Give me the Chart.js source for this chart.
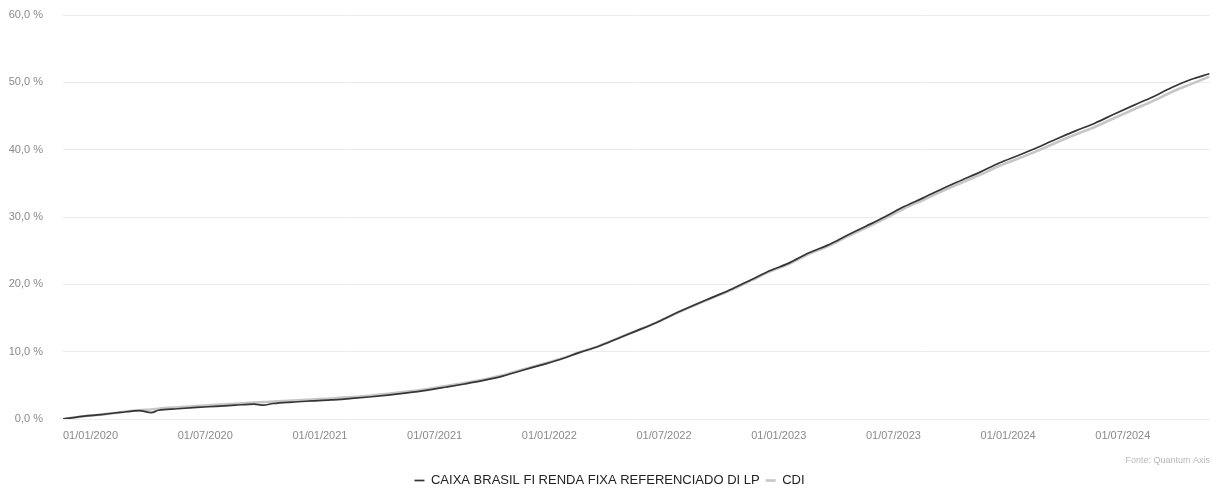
<!DOCTYPE html>
<html lang="pt-BR">
<head>
<meta charset="utf-8">
<title>CAIXA BRASIL FI RENDA FIXA REFERENCIADO DI LP x CDI</title>
<script src="https://cdn.jsdelivr.net/npm/chart.js@4/dist/chart.umd.min.js"></script>
<style>
  html, body { margin: 0; padding: 0; background: #ffffff; }
  #wrap { position: relative; width: 1223px; height: 488px; }
</style>
</head>
<body>
<div id="wrap"><canvas id="chart"></canvas></div>
<script>
// Observation dates (DD/MM/YYYY)
const dates = [
  "01/01/2020","01/02/2020","01/03/2020","01/04/2020","01/05/2020","20/05/2020","01/06/2020",
  "01/07/2020","01/08/2020","01/09/2020","01/10/2020","01/11/2020","15/11/2020","01/12/2020",
  "01/01/2021","01/02/2021","01/03/2021","01/04/2021","01/05/2021","01/06/2021",
  "01/07/2021","01/08/2021","01/09/2021","01/10/2021","01/11/2021","01/12/2021",
  "01/01/2022","01/02/2022","01/03/2022","01/04/2022","01/05/2022","01/06/2022",
  "01/07/2022","01/08/2022","01/09/2022","01/10/2022","01/11/2022","01/12/2022",
  "01/01/2023","01/02/2023","01/03/2023","01/04/2023","01/05/2023","01/06/2023",
  "01/07/2023","01/08/2023","01/09/2023","01/10/2023","01/11/2023","01/12/2023",
  "01/01/2024","01/02/2024","01/03/2024","01/04/2024","01/05/2024","01/06/2024",
  "01/07/2024","01/08/2024","01/09/2024","01/10/2024","01/11/2024","01/12/2024",
  "31/12/2024"
];

// Accumulated return of the fund (%)
const caixaValues = [
  0.00, 0.38, 0.66, 0.98, 1.25, 0.94, 1.30,
  1.52, 1.72, 1.88, 2.05, 2.22, 2.05, 2.30,
  2.52, 2.68, 2.83, 3.04, 3.27, 3.55,
  3.88, 4.26, 4.72, 5.20, 5.73, 6.37,
  7.21, 8.00, 8.83, 9.85, 10.77, 11.93,
  13.09, 14.27, 15.63, 16.89, 18.10, 19.32,
  20.68, 22.05, 23.19, 24.65, 25.82, 27.24,
  28.63, 30.04, 31.55, 32.84, 34.20, 35.46,
  36.70, 38.05, 39.17, 40.35, 41.63, 42.83,
  43.97, 45.30, 46.58, 47.83, 49.22, 50.42,
  51.28
];

// Accumulated CDI (%)
const cdiValues = [
  0.00, 0.38, 0.67, 1.01, 1.29, 1.42, 1.53,
  1.74, 1.94, 2.10, 2.27, 2.43, 2.50, 2.58,
  2.75, 2.90, 3.04, 3.24, 3.46, 3.74,
  4.06, 4.43, 4.88, 5.34, 5.86, 6.48,
  7.30, 8.08, 8.90, 9.91, 10.82, 11.96,
  13.11, 14.27, 15.61, 16.85, 18.04, 19.24,
  20.58, 21.93, 23.05, 24.49, 25.64, 27.04,
  28.40, 29.78, 31.26, 32.53, 33.86, 35.09,
  36.29, 37.61, 38.71, 39.86, 41.11, 42.28,
  43.40, 44.71, 45.97, 47.20, 48.57, 49.74,
  50.85
];

// Dates shown on the horizontal axis
const tickLabels = [
  "01/01/2020","01/07/2020","01/01/2021","01/07/2021","01/01/2022",
  "01/07/2022","01/01/2023","01/07/2023","01/01/2024","01/07/2024"
];

const seriesNames = ["CAIXA BRASIL FI RENDA FIXA REFERENCIADO DI LP", "CDI"];
const sourceText = "Fonte: Quantum Axis";

// Months elapsed since 01/01/2020 for a DD/MM/YYYY string
function toMonths(s) {
  const [d, m, y] = s.split("/").map(Number);
  const daysInMonth = new Date(y, m, 0).getDate();
  return (y - 2020) * 12 + (m - 1) + (d - 1) / daysInMonth;
}
const tickPositions = tickLabels.map(toMonths);
const xMax = toMonths(dates[dates.length - 1]) + 1 / 31;

function points(values) {
  return values.map((v, i) => ({ x: toMonths(dates[i]), y: v }));
}

const FONT = "'Liberation Sans', Arial, sans-serif";

new Chart(document.getElementById("chart"), {
  type: "line",
  data: {
    datasets: [
      {
        label: seriesNames[0],
        data: points(caixaValues),
        borderColor: "#353535",
        backgroundColor: "#353535",
        borderWidth: 1.7,
        pointRadius: 0,
        cubicInterpolationMode: "monotone",
        order: 0
      },
      {
        label: seriesNames[1],
        data: points(cdiValues),
        borderColor: "#c6c6c6",
        backgroundColor: "#c6c6c6",
        borderWidth: 2.6,
        pointRadius: 0,
        cubicInterpolationMode: "monotone",
        order: 1
      }
    ]
  },
  options: {
    responsive: true,
    maintainAspectRatio: false,
    animation: false,
    layout: { padding: { top: 15, right: 13, left: 9, bottom: -9 } },
    scales: {
      x: {
        type: "linear",
        min: 0,
        max: xMax,
        afterBuildTicks: (axis) => { axis.ticks = tickPositions.map(v => ({ value: v })); },
        ticks: {
          align: "start",
          autoSkip: false,
          maxRotation: 0,
          padding: 2,
          color: "#8a8a8a",
          font: { family: FONT, size: 11 },
          callback: (value) => {
            const i = tickPositions.findIndex(p => Math.abs(p - value) < 1e-6);
            return i >= 0 ? tickLabels[i] : "";
          }
        },
        grid: { display: false },
        border: { display: false }
      },
      y: {
        min: 0,
        max: 60,
        afterFit: (axis) => {
          axis.width = 54;
          axis.paddingTop = 0;
          axis.paddingBottom = 0;
        },
        ticks: {
          stepSize: 10,
          padding: 20,
          color: "#8a8a8a",
          font: { family: FONT, size: 11 },
          callback: (v) => v.toFixed(1).replace(".", ",") + " %"
        },
        grid: { color: "#ececec", lineWidth: 1, drawTicks: false },
        border: { display: false }
      }
    },
    plugins: {
      legend: {
        position: "bottom",
        labels: {
          usePointStyle: true,
          pointStyle: "line",
          pointStyleWidth: 10,
          boxHeight: 10,
          padding: 6,
          color: "#222222",
          font: { family: FONT, size: 13 }
        }
      },
      subtitle: {
        display: true,
        text: sourceText,
        position: "bottom",
        align: "end",
        weight: 500,
        color: "#b8b8b8",
        font: { family: FONT, size: 9, weight: "normal" },
        padding: { top: 11, bottom: 2 }
      },
      tooltip: { enabled: false }
    }
  }
});
</script>
</body>
</html>
